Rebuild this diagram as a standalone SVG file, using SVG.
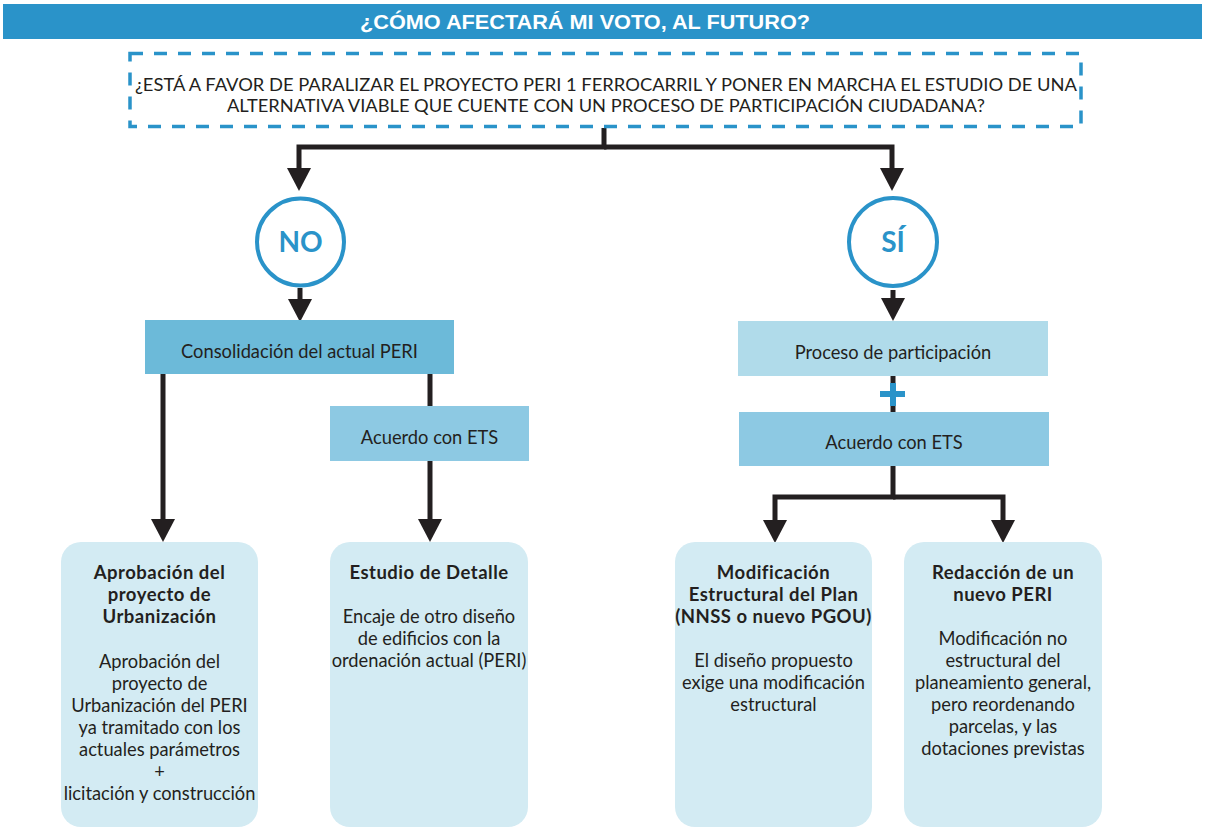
<svg xmlns="http://www.w3.org/2000/svg" width="1207" height="834" viewBox="0 0 1207 834">
<style>
.conn{fill:none;stroke:#231f20;stroke-width:5;stroke-linejoin:miter}
.t{font-family:Lato,"Noto Sans","Liberation Sans",sans-serif;fill:#231f20;text-anchor:middle}
.b{font-weight:bold;font-size:18.5px;letter-spacing:0.5px}
.n{font-size:18.3px}
.card{fill:#d3ebf3}
.circ{fill:#fff;stroke:#2a93c9;stroke-width:4}
.ct{font-family:Lato,"Liberation Sans",sans-serif;font-weight:bold;font-size:28px;fill:#2a93c9;text-anchor:middle}
</style>
<defs>
<marker id="ah" viewBox="0 0 23 24" refX="0" refY="12" markerWidth="23" markerHeight="24" orient="auto" markerUnits="userSpaceOnUse">
<path d="M0,0 L23,12 L0,24 z" fill="#231f20"/>
</marker>
</defs>
<rect width="1207" height="834" fill="#fff"/>
<g id="header">
<rect x="3" y="4" width="1199" height="35" fill="#2a93c9"/>
<text x="585" y="29" font-family="'Liberation Sans',Arial,sans-serif" font-weight="bold" font-size="20.5" fill="#fff" text-anchor="middle" textLength="450" lengthAdjust="spacingAndGlyphs">¿CÓMO AFECTARÁ MI VOTO, AL FUTURO?</text>
</g>
<g id="connectors">
<path class="conn" d="M604,128 V147 H299 V168" marker-end="url(#ah)"/>
<path class="conn" d="M604,147 H892 V168" marker-end="url(#ah)"/>
<path class="conn" d="M300,288 V299" marker-end="url(#ah)"/>
<path class="conn" d="M163,374 V519" marker-end="url(#ah)"/>
<path class="conn" d="M430,374 V406"/>
<path class="conn" d="M430,461 V519" marker-end="url(#ah)"/>
<path class="conn" d="M893,290 V298" marker-end="url(#ah)"/>
<path class="conn" d="M893,376 V412"/>
<path class="conn" d="M893,466 V497 H775 V520" marker-end="url(#ah)"/>
<path class="conn" d="M893,497 H1003 V520" marker-end="url(#ah)"/>
</g>
<g id="question">
<rect x="130" y="53.5" width="951" height="73" fill="none" stroke="#2a93c9" stroke-width="3.5" stroke-dasharray="13,11"/>
<text class="t" x="606" y="91" font-size="16.5" textLength="942" lengthAdjust="spacingAndGlyphs">¿ESTÁ A FAVOR DE PARALIZAR EL PROYECTO PERI 1 FERROCARRIL Y PONER EN MARCHA EL ESTUDIO DE UNA</text>
<text class="t" x="606" y="112" font-size="16.5" textLength="758" lengthAdjust="spacingAndGlyphs">ALTERNATIVA VIABLE QUE CUENTE CON UN PROCESO DE PARTICIPACIÓN CIUDADANA?</text>
</g>
<g id="no">
<circle class="circ" cx="300.5" cy="242" r="43.5"/>
<text class="ct" x="300.5" y="252">NO</text>
</g>
<g id="si">
<circle class="circ" cx="893" cy="242" r="44"/>
<text class="ct" x="893" y="252">SÍ</text>
</g>
<g id="consolidacion">
<rect x="145" y="320" width="309" height="54" fill="#6cbad9"/>
<text class="t n" x="299.5" y="357.5">Consolidación del actual PERI</text>
</g>
<g id="acuerdo-no">
<rect x="330" y="406" width="199" height="55" fill="#8dc9e3"/>
<text class="t n" x="429.5" y="443.5">Acuerdo con ETS</text>
</g>
<g id="proceso">
<rect x="738" y="321" width="310" height="55" fill="#b0dbea"/>
<text class="t n" x="893" y="358.5">Proceso de participación</text>
</g>
<g id="plus">
<rect x="880" y="391" width="25" height="6" fill="#2a93c9"/>
<rect x="890" y="383" width="6" height="23" fill="#2a93c9"/>
</g>
<g id="acuerdo-si">
<rect x="739" y="412" width="310" height="54" fill="#8dc9e3"/>
<text class="t n" x="894" y="448.5">Acuerdo con ETS</text>
</g>
<g id="aprobacion">
<rect class="card" x="61" y="542" width="197" height="285" rx="20"/>
<text class="t b" x="159.5"><tspan x="159.5" y="578.5">Aprobación del</tspan><tspan x="159.5" y="600.5">proyecto de</tspan><tspan x="159.5" y="622.5">Urbanización</tspan></text>
<text class="t n" x="159.5"><tspan x="159.5" y="667.5">Aprobación del</tspan><tspan x="159.5" y="689.5">proyecto de</tspan><tspan x="159.5" y="711.5">Urbanización del PERI</tspan><tspan x="159.5" y="733.5">ya tramitado con los</tspan><tspan x="159.5" y="755.5">actuales parámetros</tspan><tspan x="159.5" y="777.5">+</tspan><tspan x="159.5" y="799.5">licitación y construcción</tspan></text>
</g>
<g id="estudio">
<rect class="card" x="330" y="542" width="198" height="285" rx="20"/>
<text class="t b" x="429" y="578.5">Estudio de Detalle</text>
<text class="t n" x="429"><tspan x="429" y="622.5">Encaje de otro diseño</tspan><tspan x="429" y="644.5">de edificios con la</tspan><tspan x="429" y="666.5">ordenación actual (PERI)</tspan></text>
</g>
<g id="modificacion">
<rect class="card" x="675" y="542" width="197" height="285" rx="20"/>
<text class="t b" x="773.5"><tspan x="773.5" y="578.5">Modificación</tspan><tspan x="773.5" y="600.5">Estructural del Plan</tspan><tspan x="773.5" y="622.5">(NNSS o nuevo PGOU)</tspan></text>
<text class="t n" x="773.5"><tspan x="773.5" y="666.5">El diseño propuesto</tspan><tspan x="773.5" y="688.5">exige una modificación</tspan><tspan x="773.5" y="710.5">estructural</tspan></text>
</g>
<g id="redaccion">
<rect class="card" x="904" y="542" width="198" height="285" rx="20"/>
<text class="t b" x="1003"><tspan x="1003" y="578.5">Redacción de un</tspan><tspan x="1003" y="600.5">nuevo PERI</tspan></text>
<text class="t n" x="1003"><tspan x="1003" y="644.5">Modificación no</tspan><tspan x="1003" y="666.5">estructural del</tspan><tspan x="1003" y="688.5">planeamiento general,</tspan><tspan x="1003" y="710.5">pero reordenando</tspan><tspan x="1003" y="732.5">parcelas, y las</tspan><tspan x="1003" y="754.5">dotaciones previstas</tspan></text>
</g>
</svg>
